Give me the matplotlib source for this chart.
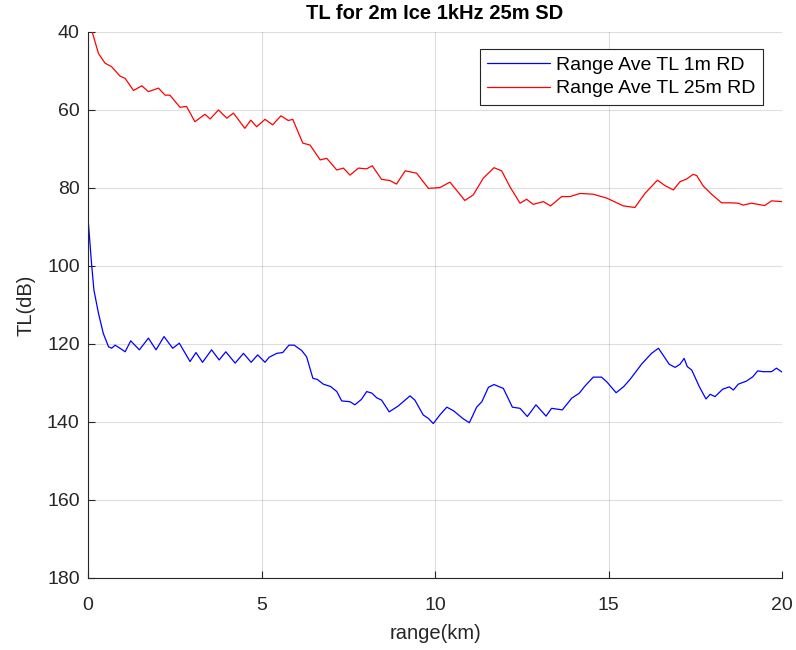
import matplotlib
matplotlib.use("Agg")
import matplotlib.pyplot as plt

plt.rcParams['font.family'] = ['Liberation Sans', 'DejaVu Sans']

# Range-averaged transmission loss, receiver depth 1 m
range_1m = [0.0, 0.1, 0.17, 0.3, 0.44, 0.59, 0.68, 0.78, 0.92, 1.07, 1.23, 1.48,
            1.74, 1.96, 2.19, 2.44, 2.63, 2.94, 3.11, 3.3, 3.56, 3.78, 3.97, 4.24,
            4.48, 4.7, 4.89, 5.1, 5.22, 5.44, 5.61, 5.79, 5.94, 6.16, 6.3, 6.48,
            6.61, 6.78, 6.99, 7.17, 7.31, 7.55, 7.69, 7.88, 8.03, 8.18, 8.32, 8.46,
            8.68, 8.94, 9.28, 9.42, 9.66, 9.81, 9.95, 10.14, 10.34, 10.53, 10.8,
            10.99, 11.2, 11.35, 11.54, 11.7, 11.97, 12.23, 12.45, 12.66, 12.91,
            13.2, 13.36, 13.67, 13.94, 14.16, 14.32, 14.56, 14.8, 14.95, 15.22,
            15.43, 15.62, 15.96, 16.24, 16.44, 16.75, 16.92, 17.06, 17.18, 17.27,
            17.4, 17.62, 17.81, 17.93, 18.07, 18.29, 18.48, 18.6, 18.74, 18.98,
            19.16, 19.3, 19.46, 19.7, 19.84, 20.0]
tl_1m = [87.8, 99.3, 106.2, 112.1, 117.3, 120.7, 121.1, 120.3, 121.1, 122.0, 119.2,
         121.5, 118.5, 121.5, 118.1, 121.1, 119.8, 124.5, 122.2, 124.7, 121.5,
         124.1, 122.0, 124.9, 122.4, 124.7, 122.8, 124.7, 123.4, 122.4, 122.2,
         120.3, 120.3, 121.7, 123.3, 128.8, 129.1, 130.3, 130.9, 132.2, 134.6,
         134.8, 135.6, 134.2, 132.2, 132.6, 133.8, 134.4, 137.4, 135.9, 133.3,
         134.4, 138.2, 139.1, 140.4, 138.2, 136.2, 137.1, 139.1, 140.2, 136.2,
         134.8, 131.1, 130.4, 131.4, 136.2, 136.5, 138.6, 135.6, 138.5, 136.5,
         136.9, 133.9, 132.6, 130.8, 128.5, 128.5, 129.7, 132.5, 131.0, 129.1,
         125.1, 122.4, 121.1, 125.2, 126.0, 125.2, 123.7, 125.8, 126.7, 131.0,
         134.1, 132.9, 133.5, 131.6, 131.0, 131.8, 130.3, 129.5, 128.4, 126.9,
         127.1, 127.1, 126.2, 127.2]

# Range-averaged transmission loss, receiver depth 25 m
range_25m = [0.12, 0.3, 0.49, 0.68, 0.92, 1.07, 1.31, 1.55, 1.74, 2.03, 2.22, 2.36,
             2.65, 2.84, 3.08, 3.37, 3.52, 3.76, 4.0, 4.19, 4.52, 4.69, 4.86, 5.1,
             5.32, 5.56, 5.77, 5.9, 6.19, 6.4, 6.69, 6.88, 7.17, 7.36, 7.55, 7.79,
             8.03, 8.19, 8.46, 8.7, 8.89, 9.14, 9.47, 9.81, 10.14, 10.43, 10.86,
             11.1, 11.39, 11.7, 11.92, 12.16, 12.45, 12.64, 12.83, 13.12, 13.33,
             13.65, 13.89, 14.18, 14.56, 14.95, 15.43, 15.76, 16.05, 16.41, 16.63,
             16.87, 17.06, 17.25, 17.44, 17.54, 17.73, 17.97, 18.26, 18.5, 18.74,
             18.88, 19.12, 19.5, 19.7, 20.0]
tl_25m = [40.0, 45.5, 48.0, 48.9, 51.3, 51.9, 55.0, 53.8, 55.3, 54.4, 56.2, 56.2,
          59.3, 59.1, 63.0, 61.1, 62.3, 60.0, 62.1, 60.8, 64.7, 62.6, 64.3, 62.4,
          63.8, 61.5, 62.7, 62.4, 68.5, 69.0, 72.8, 72.4, 75.4, 74.9, 76.7, 74.9,
          75.1, 74.3, 77.8, 78.1, 79.0, 75.6, 76.2, 80.1, 79.9, 78.5, 83.2, 81.8,
          77.5, 74.8, 75.6, 79.7, 83.9, 82.9, 84.2, 83.5, 84.6, 82.2, 82.2, 81.4,
          81.6, 82.6, 84.6, 85.0, 81.4, 78.0, 79.4, 80.5, 78.4, 77.7, 76.5, 76.8,
          79.5, 81.6, 83.8, 83.8, 83.9, 84.4, 83.9, 84.5, 83.3, 83.5]

x_ticks = [0, 5, 10, 15, 20]
y_ticks = [40, 60, 80, 100, 120, 140, 160, 180]

fig = plt.figure(figsize=(7.96, 6.5), dpi=100)
ax = fig.add_axes([0.1106, 0.1108, 0.8718, 0.84])

line_kw = dict(lw=0.9, solid_joinstyle='round', solid_capstyle='round')
ax.plot(range_1m, tl_1m, color=(0, 0, 1), label='Range Ave TL 1m RD', **line_kw)
ax.plot(range_25m, tl_25m, color=(1, 0, 0), label='Range Ave TL 25m RD', **line_kw)

ax.set_xlim(0, 20)
ax.set_ylim(180, 40)
ax.set_xticks(x_ticks)
ax.set_yticks(y_ticks)

tick_col = (0.15, 0.15, 0.15)
ax.grid(True, color=(0.15, 0.15, 0.15), alpha=0.15, lw=0.8)
ax.set_axisbelow(True)
for side in ('top', 'right'):
    ax.spines[side].set_visible(False)
for side in ('left', 'bottom'):
    ax.spines[side].set_color(tick_col)
    ax.spines[side].set_linewidth(0.8)
ax.tick_params(direction='in', length=5, width=0.8, colors=tick_col, labelsize=14)
ax.tick_params(axis='x', pad=14)
ax.tick_params(axis='y', pad=6)

ax.set_xlabel('range(km)', fontsize=14.5, color=tick_col, labelpad=7)
ax.set_ylabel('TL(dB)', fontsize=14.5, color=tick_col, labelpad=8)
ax.set_title('TL for 2m Ice 1kHz 25m SD', fontsize=14.5, fontweight='bold', pad=9)

leg = ax.legend(loc='upper right', bbox_to_anchor=(0.9726, 0.969), fontsize=14,
                frameon=True, fancybox=False, framealpha=1, edgecolor=tick_col,
                handlelength=3.25, borderpad=0.38, labelspacing=0.3,
                handletextpad=0.3, borderaxespad=0)
leg.get_frame().set_linewidth(0.8)

fig.savefig('out.png', dpi=100)
